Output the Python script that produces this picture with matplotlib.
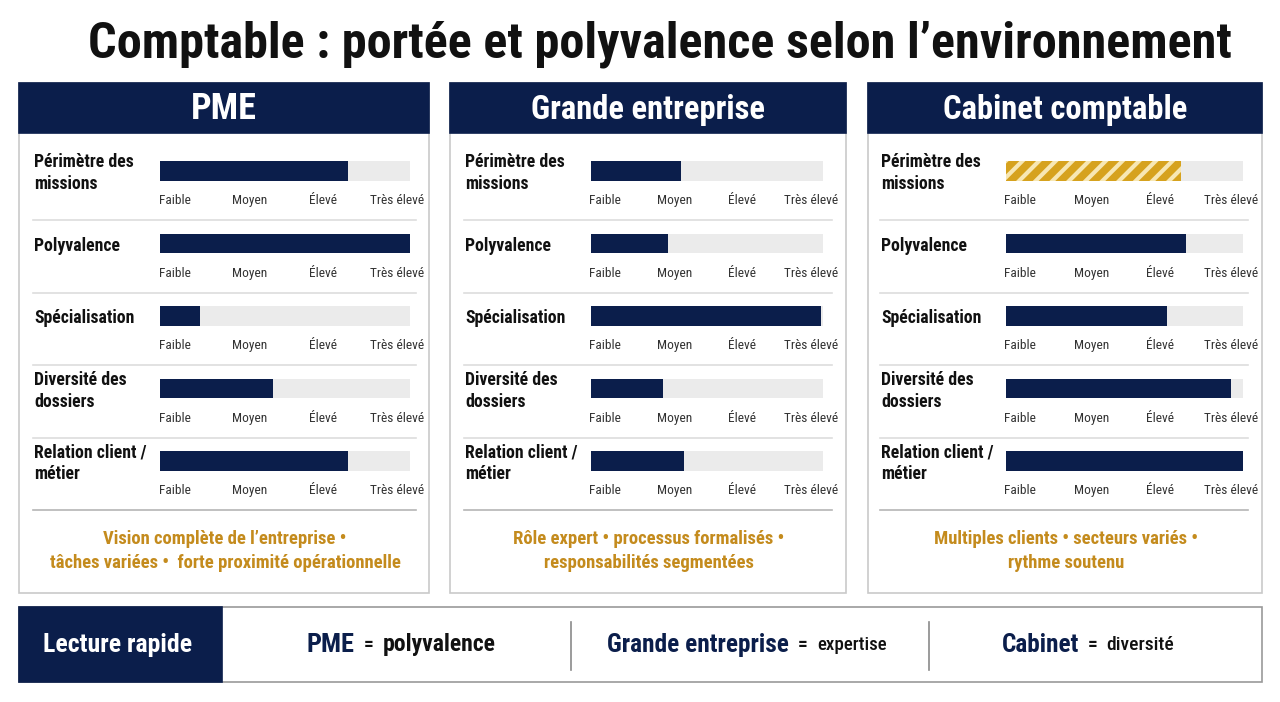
import matplotlib
matplotlib.use("Agg")
import matplotlib.pyplot as plt
from matplotlib.patches import Rectangle
from matplotlib.transforms import blended_transform_factory
import warnings
warnings.filterwarnings("ignore")
import logging
logging.getLogger("matplotlib.font_manager").setLevel(logging.ERROR)

plt.rcParams['font.family'] = ['Roboto Condensed', 'Fira Sans Condensed', 'DejaVu Sans']
plt.rcParams['hatch.linewidth'] = 3.0

# ---------------- data ----------------
title = "Comptable : portée et polyvalence selon l\u2019environnement"
panels = ["PME", "Grande entreprise", "Cabinet comptable"]
criteria = ["Périmètre des\nmissions", "Polyvalence", "Spécialisation",
            "Diversité des\ndossiers", "Relation client /\nmétier"]
levels = ["Faible", "Moyen", "Élevé", "Très élevé"]
level_pos = [6, 36, 65, 95]
pme_values = [75, 100, 16, 45, 75]
grande_values = [39, 33, 99, 31, 40]
cabinet_values = [74, 76, 68, 95, 100]
highlight = {(2, 0)}  # (panel index, criterion index) drawn hatched gold
footers = ["Vision complète de l\u2019entreprise \u2022\ntâches variées \u2022  forte proximité opérationnelle",
           "Rôle expert \u2022 processus formalisés \u2022\nresponsabilités segmentées",
           "Multiples clients \u2022 secteurs variés \u2022\nrythme soutenu"]
summary_label = "Lecture rapide"
summary = [("PME", "polyvalence"), ("Grande entreprise", "expertise"), ("Cabinet", "diversité")]

values = [pme_values, grande_values, cabinet_values]

NAVY = "#0b1e4b"
TRACK = "#ebebeb"
GOLD = "#c48b1d"
BORDER = "#c9c9c9"

W, H = 1280, 702
fig = plt.figure(figsize=(W / 100, H / 100), dpi=100)
ax = fig.add_axes([0, 0, 1, 1])
ax.set_xlim(0, W)
ax.set_ylim(H, 0)
ax.axis("off")

ax.text(660, 57, title, ha="center", va="baseline", fontsize=36.2, fontweight="black", color="#111111")

# panel geometry (pixels)
geo = [
    dict(x0=19, x1=429, lab=34, t0=160, t1=410, s0=33, s1=416, hs=26),
    dict(x0=450, x1=846, lab=465, t0=591, t1=823, s0=464, s1=832, hs=23.5),
    dict(x0=868, x1=1262, lab=881, t0=1006, t1=1243, s0=880, s1=1248, hs=23.5),
]
top, head_b, bot = 83, 133, 593
row0, row_step = 171, 72.5

for p, g in enumerate(geo):
    ax.add_patch(Rectangle((g["x0"], top), g["x1"] - g["x0"], bot - top, facecolor="white",
                           edgecolor=BORDER, lw=1.2, zorder=1))
    ax.add_patch(Rectangle((g["x0"], top), g["x1"] - g["x0"], head_b - top, facecolor=NAVY,
                           edgecolor=NAVY, lw=1.2, zorder=2))
    ax.text((g["x0"] + g["x1"]) / 2, 119, panels[p], ha="center", va="baseline",
            color="white", fontsize=g["hs"], fontweight="bold", zorder=3)

    ytop = row0 - row_step / 2
    ybot = row0 + row_step * (len(criteria) - 0.5)
    bax = fig.add_axes([g["t0"] / W, 1 - ybot / H, (g["t1"] - g["t0"]) / W, (ybot - ytop) / H])
    bax.set_xlim(0, 100)
    bax.set_ylim(len(criteria) - 0.5, -0.5)
    bax.axis("off")
    bax.patch.set_alpha(0)
    rows = list(range(len(criteria)))
    bax.barh(rows, [100] * len(rows), height=0.27, color=TRACK, zorder=1)
    for i, v in enumerate(values[p]):
        if (p, i) in highlight:
            bax.barh(i, v, height=0.27, facecolor="#d6a21e", edgecolor="#f7e7b4", hatch="//", lw=0, zorder=2)
        else:
            bax.barh(i, v, height=0.27, color=NAVY, zorder=2)
        for lv, lp in zip(levels, level_pos):
            bax.text(lp, i + 0.41, lv, ha="center", va="center", fontsize=9.6, color="#333333",
                     clip_on=False)
    tr = blended_transform_factory(ax.transData, bax.transData)
    for i, c in enumerate(criteria):
        bax.text(g["lab"], i + 0.03, c, transform=tr, ha="left", va="center", fontsize=12.8,
                 fontweight="bold", color="#111111", linespacing=1.3, clip_on=False)
        col = "#b5b5b5" if i == len(criteria) - 1 else "#dddddd"
        bax.plot([g["s0"], g["s1"]], [i + 0.68, i + 0.68], transform=tr, color=col, lw=1.2,
                 clip_on=False)
    ax.text((g["x0"] + g["x1"]) / 2 + 1, 551, footers[p], ha="center", va="center", color=GOLD,
            fontsize=13.4, fontweight="bold", linespacing=1.44, zorder=3)

# bottom summary bar
ax.add_patch(Rectangle((19, 607), 1262 - 19, 682 - 607, facecolor="white", edgecolor="#9a9a9a", lw=1.2))
ax.add_patch(Rectangle((19, 607), 222 - 19, 682 - 607, facecolor=NAVY, edgecolor=NAVY, lw=1.2))
ax.text(118, 645, summary_label, ha="center", va="center", color="white", fontsize=18.5, fontweight="bold")
for xd in (571, 929):
    ax.plot([xd, xd], [622, 670], color="#8a8a8a", lw=1.2)

centers = [401, 747, 1088]
sizes = [(19, 17, "bold"), (18.3, 13.6, "medium"), (18.2, 14, "medium")]
for (k, v), cx, (s1, s2, w2) in zip(summary, centers, sizes):
    t1 = ax.text(0, 645, k, ha="left", va="center", color=NAVY, fontsize=s1, fontweight="bold")
    t2 = ax.annotate("  =  ", xy=(1, 0.5), xycoords=t1, ha="left", va="center", color="#111111",
                     fontsize=14, fontweight="bold")
    t3 = ax.annotate(v, xy=(1, 0.5), xycoords=t2, ha="left", va="center", color="#111111",
                     fontsize=s2, fontweight=w2)
    fig.canvas.draw()
    r = fig.canvas.get_renderer()
    x_left = t1.get_window_extent(r).x0
    x_right = t3.get_window_extent(r).x1
    t1.set_x(cx - (x_right - x_left) / 2)

fig.savefig("out.png", dpi=100)
